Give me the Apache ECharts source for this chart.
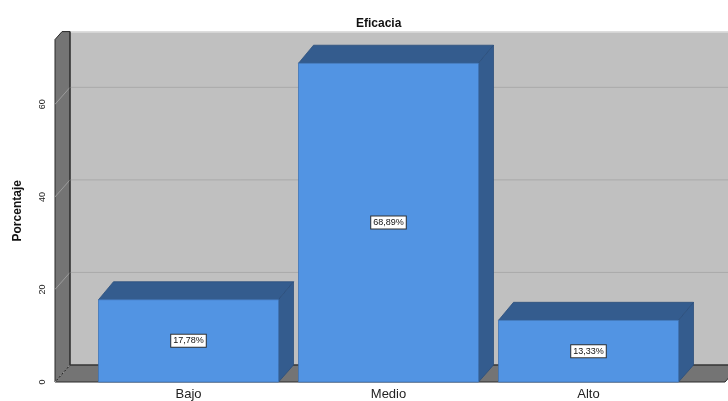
<!DOCTYPE html>
<html>
<head>
<meta charset="utf-8">
<script src="https://cdn.jsdelivr.net/npm/echarts@6/dist/echarts.min.js"></script>
<style>
  html, body { margin: 0; padding: 0; background: #ffffff; }
  #chart { width: 728px; height: 401px; }
</style>
</head>
<body>
<div id="chart"></div>
<script>
// Eficacia: percentage of cases per level
const categories = ['Bajo', 'Medio', 'Alto'];
const percentages = [17.78, 68.89, 13.33];
const yTicks = [0, 20, 40, 60];
const yMax = 74;

// 3D look: depth offset of walls and bars (pixels)
const DX = 15, DY = 17;
const SIDE_PAD = 33.5;   // distance from plot frame to first/last category band
const CLIP_TOP = 8;      // how far the back wall rises above the front frame

const chart = echarts.init(document.getElementById('chart'), null, { renderer: 'canvas' });

function fmt(v) { return v.toFixed(2).replace('.', ',') + '%'; }

function renderWalls(params, api) {
  const cs = params.coordSys;
  const base = api.coord([0, 0])[1];
  const fx0 = cs.x - SIDE_PAD;
  const fx1 = cs.x + cs.width + SIDE_PAD;
  const top = cs.y;
  const topBack = top - CLIP_TOP;
  const children = [];
  // back wall
  children.push({ type: 'rect', shape: { x: fx0 + DX, y: topBack, width: fx1 - fx0 + 40, height: base - DY - topBack },
    style: { fill: '#c0c0c0', stroke: null } });
  children.push({ type: 'line', shape: { x1: fx0 + DX, y1: topBack + 0.5, x2: fx1 + 60, y2: topBack + 0.5 },
    style: { stroke: '#dcdcdc', lineWidth: 1.5 } });
  // floor
  children.push({ type: 'polygon', shape: { points: [[fx0, base], [fx1 + 3, base], [fx1 + 3 + DX, base - DY], [fx0 + DX, base - DY]] },
    style: { fill: '#747474', stroke: '#2a2a2a', lineWidth: 1 } });
  // left wall
  const cx = fx0 + DX * CLIP_TOP / DY;
  children.push({ type: 'polygon', shape: { points: [[fx0, base], [fx0, top], [cx, topBack], [fx0 + DX, topBack], [fx0 + DX, base - DY]] },
    style: { fill: '#747474', stroke: '#2a2a2a', lineWidth: 1 } });
  // gridlines on back wall and left wall
  yTicks.forEach(function (t) {
    const y = api.coord([0, t])[1];
    if (t > 0) {
      children.push({ type: 'line', shape: { x1: fx0 + DX, y1: y - DY, x2: fx1 + 60, y2: y - DY },
        style: { stroke: '#a9a9a9', lineWidth: 1 } });
    }
    children.push({ type: 'line', shape: { x1: fx0, y1: y, x2: fx0 + DX, y2: y - DY },
      style: { stroke: '#9c9c9c', lineWidth: 1, lineDash: t === 0 ? [2, 2] : null } });
  });
  // inner corner edge
  children.push({ type: 'line', shape: { x1: fx0 + DX, y1: topBack, x2: fx0 + DX, y2: base - DY },
    style: { stroke: '#2a2a2a', lineWidth: 1 } });
  children.push({ type: 'line', shape: { x1: fx0 + DX, y1: base - DY, x2: fx1 + DX + 40, y2: base - DY },
    style: { stroke: '#3a3a3a', lineWidth: 1 } });
  return { type: 'group', children: children };
}

function renderBar(params, api) {
  const idx = api.value(0);
  const v = api.value(1);
  const topPt = api.coord([idx, v]);
  const basePt = api.coord([idx, 0]);
  const w = api.size([1, 0])[0] * 0.9;
  const x0 = topPt[0] - w / 2, x1 = topPt[0] + w / 2;
  const yT = topPt[1], yB = basePt[1];
  const edge = '#2c4f7c';
  return {
    type: 'group',
    children: [
      { type: 'polygon', shape: { points: [[x0, yT], [x0 + DX, yT - DY - 1], [x1 + DX, yT - DY - 1], [x1, yT]] },
        style: { fill: '#345c8e', stroke: edge, lineWidth: 0.8 } },
      { type: 'polygon', shape: { points: [[x1, yT], [x1 + DX, yT - DY - 1], [x1 + DX, yB - DY], [x1, yB]] },
        style: { fill: '#345c8e', stroke: edge, lineWidth: 0.8 } },
      { type: 'rect', shape: { x: x0, y: yT, width: w, height: yB - yT },
        style: { fill: '#5294e3', stroke: '#3f73b5', lineWidth: 0.8 } },
      { type: 'text', x: topPt[0], y: (yT + yB) / 2,
        style: { text: fmt(v), fontSize: 9, fontFamily: 'Liberation Sans, Arial, sans-serif', fill: '#111',
          align: 'center', verticalAlign: 'middle', backgroundColor: '#ffffff',
          borderColor: '#333333', borderWidth: 1, padding: [2, 2, 1, 2] } }
    ]
  };
}

const option = {
  animation: false,
  title: {
    text: 'Eficacia', left: 351, top: 13,
    textStyle: { fontSize: 12, fontWeight: 'bold', color: '#111', fontFamily: 'Liberation Sans, Arial, sans-serif' }
  },
  grid: { left: 88.5, right: 39.5, top: 383 - yMax * 4.641, bottom: 18 },
  xAxis: {
    type: 'category', data: categories,
    axisLine: { show: false }, axisTick: { show: false },
    axisLabel: { fontSize: 13, color: '#222', margin: 6, fontFamily: 'Liberation Sans, Arial, sans-serif' },
    splitLine: { show: false }
  },
  yAxis: {
    type: 'value', min: 0, max: yMax, interval: 20, offset: SIDE_PAD,
    name: 'Porcentaje', nameLocation: 'middle', nameGap: 31, nameRotate: 90,
    nameTextStyle: { fontSize: 12, fontWeight: 'bold', color: '#111', fontFamily: 'Liberation Sans, Arial, sans-serif' },
    axisLine: { show: false }, axisTick: { show: false }, splitLine: { show: false },
    axisLabel: { rotate: 90, fontSize: 9, color: '#222', margin: 8, showMaxLabel: false,
      fontFamily: 'Liberation Sans, Arial, sans-serif' }
  },
  series: [
    { type: 'custom', renderItem: renderWalls, data: [[0, 0]], z: 1, silent: true, clip: false },
    { type: 'custom', renderItem: renderBar, data: percentages.map(function (v, i) { return [i, v]; }), z: 2, clip: false }
  ]
};
chart.setOption(option);
</script>
</body>
</html>
